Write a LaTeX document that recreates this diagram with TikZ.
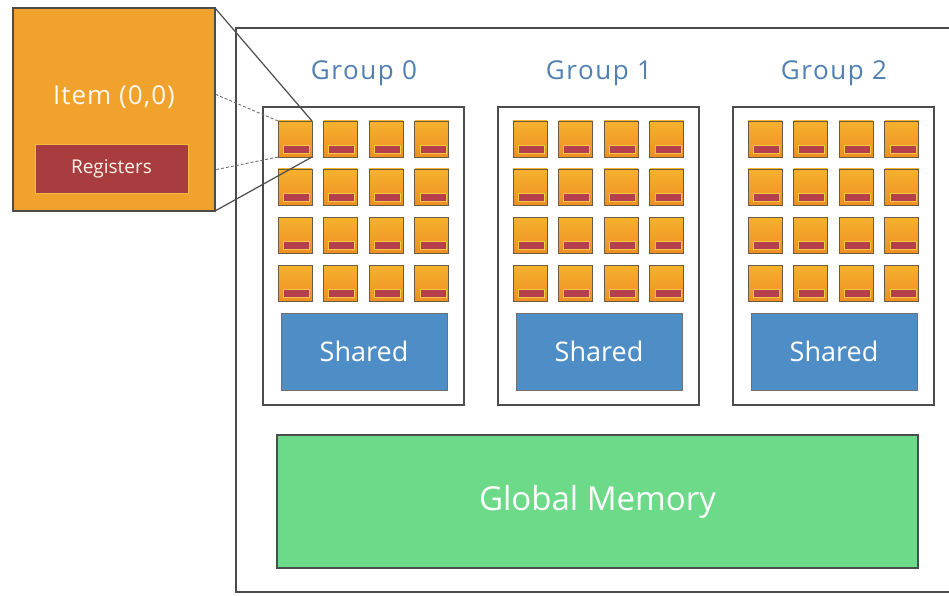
\documentclass[tikz,border=0pt]{standalone}
\usepackage{fontspec}
\setmainfont{Open Sans}
\definecolor{itemtop}{HTML}{F6B22E}
\definecolor{itembot}{HTML}{EE8F22}
\definecolor{itemedge}{HTML}{6A5B45}
\definecolor{regred}{HTML}{B53F4C}
\definecolor{regedge}{HTML}{F3C84A}
\definecolor{bigorange}{HTML}{F1A22C}
\definecolor{bigreg}{HTML}{A83C3F}
\definecolor{sharedblue}{HTML}{4E8DC6}
\definecolor{globalgreen}{HTML}{6DDA89}
\definecolor{titleblue}{HTML}{5080B2}
\definecolor{framegray}{HTML}{4C4C4C}
\begin{document}
\begin{tikzpicture}[x=1pt,y=-1pt,
  every node/.style={inner sep=0pt,outer sep=0pt},
  framebox/.style={draw=framegray,line width=2.6pt,fill=white},
  groupbox/.style={draw=framegray,line width=2.2pt,fill=white,
    minimum width=201pt,minimum height=298pt},
  grouptitle/.style={text=titleblue,font=\fontsize{26}{28}\selectfont\addfontfeatures{LetterSpace=6}},
  itembox/.style={draw=itemedge,line width=0.9pt,top color=itemtop,bottom color=itembot,
    minimum width=34pt,minimum height=36pt},
  sharedbox/.style={draw=framegray!80,line width=1pt,fill=sharedblue,
    minimum width=166pt,minimum height=77pt,text=white,
    font=\fontsize{27}{29}\selectfont},
  globalbox/.style={draw=framegray,line width=1.2pt,fill=globalgreen,
    minimum width=641pt,minimum height=133pt,text=white,
    font=\fontsize{33}{35}\selectfont},
  bigitem/.style={draw=framegray,line width=2pt,fill=bigorange,
    minimum width=202pt,minimum height=203pt},
  regbox/.style={draw=regedge!70!bigorange,line width=1pt,fill=bigreg,
    minimum width=153pt,minimum height=48pt,text=white!92!orange,
    font=\fontsize{19}{21}\selectfont},
  zoomfront/.style={draw=framegray,line width=1.2pt},
  zoomback/.style={draw=framegray!80,line width=0.9pt,dashed,dash pattern=on 3pt off 2pt}]
\useasboundingbox (0,0) rectangle (949,596);

% outer frame (runs past the right edge)
\draw[framebox] (236,28) rectangle (970,592);

% work-groups with their items and shared memory
\foreach \g/\gx in {0/263,1/498,2/733}{
  \node[groupbox,anchor=north west] (group\g) at (\gx,107) {};
  \node[grouptitle] (title\g) at (\gx+101,73) {Group \g};
  \foreach \r in {0,1,2,3}{
    \foreach \c in {0,1,2,3}{
      \node[itembox] (item-\g-\r-\c) at (\gx+32+\c*45.6,139+\r*48) {};
      \fill[regred,draw=regedge,line width=0.6pt]
        ([xshift=5pt,yshift=4pt]item-\g-\r-\c.south west)
        rectangle ([xshift=-3pt,yshift=12pt]item-\g-\r-\c.south east);
    }
  }
  \node[sharedbox] (shared\g) at (\gx+101,351.5) {Shared};
}

% global memory
\node[globalbox] (global) at (597.5,501.5) {Global Memory};

% magnified view of item (0,0)
\node[bigitem,anchor=north west] (big) at (13,8) {};
\draw[zoomback] (item-0-0-0.north west) -- (big.north west);
\draw[zoomback] (item-0-0-0.south west) -- (big.south west);
\node[bigitem,anchor=north west] (bigtop) at (13,8) {};
\draw[zoomfront] (item-0-0-0.north east) -- (bigtop.north east);
\draw[zoomfront] (item-0-0-0.south east) -- (bigtop.south east);
\node[text=white!94!orange,font=\fontsize{26}{28}\selectfont\addfontfeatures{LetterSpace=4}]
  (itemlabel) at (114,97) {Item (0,0)};
\node[regbox] (registers) at (111.5,169) {Registers};
\end{tikzpicture}
\end{document}
